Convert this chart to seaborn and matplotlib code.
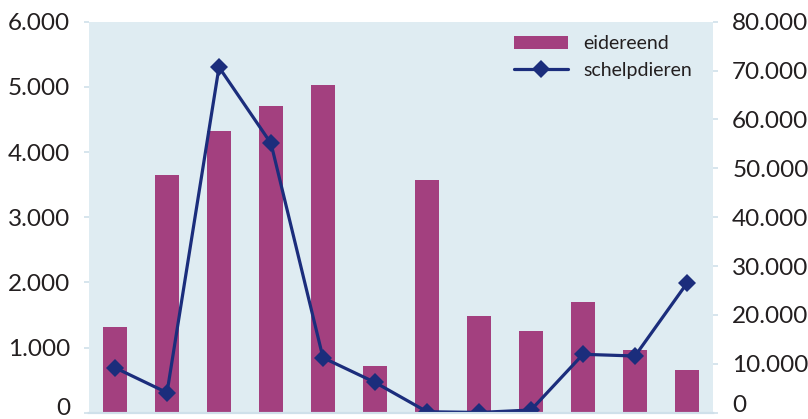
import matplotlib
matplotlib.use("Agg")
import matplotlib.pyplot as plt
from matplotlib.ticker import FuncFormatter, FixedLocator
from matplotlib.lines import Line2D
from matplotlib.patches import Patch
from matplotlib.transforms import ScaledTranslation
import seaborn as sns
import pandas as pd

# Twaalf meetperiodes (niet gelabeld op de as)
perioden = ["1", "2", "3", "4", "5", "6", "7", "8", "9", "10", "11", "12"]
# Aantal eidereenden (linkeras)
eidereend = [1310, 3640, 4320, 4710, 5030, 720, 3570, 1480, 1250, 1700, 960, 655]
# Schelpdieren (rechteras)
schelpdieren = [9200, 4100, 70700, 55100, 11250, 6200, 200, 50, 550, 11950, 11600, 26500]
# Asverdeling
ticks_links = [0, 1000, 2000, 3000, 4000, 5000, 6000]
ticks_rechts = [0, 10000, 20000, 30000, 40000, 50000, 60000, 70000, 80000]

df = pd.DataFrame({"periode": perioden, "eidereend": eidereend,
                   "schelpdieren": schelpdieren})

BAR = "#A3407F"
LIJN = "#1B2D7C"
ACHTERGROND = "#DFECF2"
TICK = "#CFE0EA"
TEKST = "#231F20"

sns.set_theme(style="white")
plt.rcParams["font.family"] = ["Lato", "DejaVu Sans"]

W, H = 808, 419
fig = plt.figure(figsize=(W / 100, H / 100), dpi=100)
ax = fig.add_axes([89 / W, 1 - 412.7 / H, 624 / W, 391 / H])
ax.set_facecolor(ACHTERGROND)

sns.barplot(data=df, x="periode", y="eidereend", color=BAR, saturation=1,
            width=0.48, linewidth=0, ax=ax)
ax.set_xlim(-0.5, len(perioden) - 0.5)
ax.set_ylim(ticks_links[0], ticks_links[-1])

ax2 = ax.twinx()
sns.lineplot(data=df, x="periode", y="schelpdieren", color=LIJN, marker="D",
             markersize=9, markeredgewidth=0, linewidth=2.3, sort=False, ax=ax2)
ax2.set_ylim(ticks_rechts[0], ticks_rechts[-1])
ax.set_xlim(-0.5, len(perioden) - 0.5)


def punt(v, pos=None):
    return f"{int(v):,}".replace(",", ".")


for a, ticks in ((ax, ticks_links), (ax2, ticks_rechts)):
    a.yaxis.set_major_locator(FixedLocator(ticks))
    a.yaxis.set_major_formatter(FuncFormatter(punt))
    a.set_xlabel("")
    a.set_ylabel("")
    for s in ("top", "left", "right"):
        a.spines[s].set_visible(False)
    a.spines["bottom"].set_color(TICK)
    a.spines["bottom"].set_linewidth(1.5)
    a.tick_params(axis="x", length=0, labelbottom=False)

ax.tick_params(axis="y", left=True, length=3.6, width=1.2, color=TICK,
               labelsize=17.5, labelcolor=TEKST, pad=10)
ax2.tick_params(axis="y", right=True, length=3.6, width=1.2, color=TICK,
                labelsize=17.5, labelcolor=TEKST, pad=10.2)

# De nul-labels iets omhoog zodat ze binnen de figuur blijven
fig.canvas.draw()
ax.get_yticklabels()[0].set_transform(
    ax.get_yticklabels()[0].get_transform()
    + ScaledTranslation(0, 6 / 100, fig.dpi_scale_trans))
ax2.get_yticklabels()[0].set_transform(
    ax2.get_yticklabels()[0].get_transform()
    + ScaledTranslation(0, 9 / 100, fig.dpi_scale_trans))

handles = [Patch(facecolor=BAR, edgecolor="none"),
           Line2D([], [], color=LIJN, marker="D", markersize=9,
                  markeredgewidth=0, linewidth=2.3)]
ax2.legend(handles, ["eidereend", "schelpdieren"], loc="upper left",
           bbox_to_anchor=((514 - 89) / 624, (412.7 - 35) / 391),
           frameon=False, fontsize=14, handlelength=2.8, handleheight=0.63,
           handletextpad=0.75, borderpad=0, borderaxespad=0,
           labelspacing=0.5, labelcolor=TEKST)

fig.savefig("out.png", dpi=100)
